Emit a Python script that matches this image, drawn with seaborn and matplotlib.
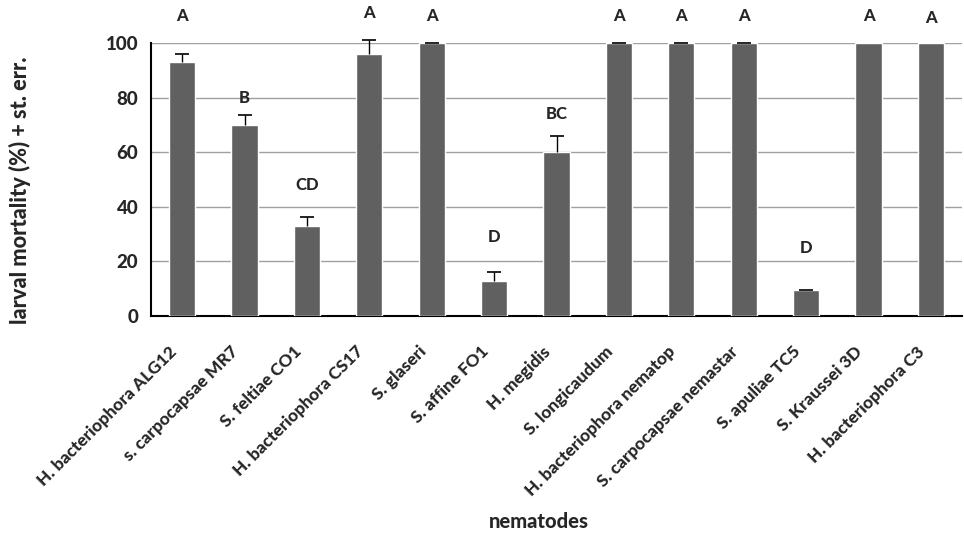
import matplotlib
matplotlib.use("Agg")
import matplotlib.pyplot as plt
import matplotlib.transforms as mtransforms
import seaborn as sns
import numpy as np
import pandas as pd
from matplotlib.ticker import FixedLocator

nematodes = ["H. bacteriophora ALG12", "s. carpocapsae MR7", "S. feltiae CO1",
             "H. bacteriophora CS17", "S. glaseri", "S. affine FO1", "H. megidis",
             "S. longicaudum", "H. bacteriophora nematop", "S. carpocapsae nemastar",
             "S. apuliae TC5", "S. Kraussei 3D", "H. bacteriophora C3"]
mortality = [93, 70, 33, 96, 100, 13, 60, 100, 100, 100, 9.5, 100, 100]
st_err = [3, 3.5, 3.3, 5, 0, 3, 6, 0, 0, 0, 0.2, np.nan, np.nan]
letters = ["A", "B", "CD", "A", "A", "D", "BC", "A", "A", "A", "D", "A", "A"]
letter_y = [110, 80, 48, 111, 110, 29, 74, 110, 110, 110, 25, 110, 109]

sns.set_style("white")
plt.rcParams['font.family'] = ['Lato', 'DejaVu Sans']

df = pd.DataFrame({"nematodes": nematodes, "mortality": mortality})

fig = plt.figure(figsize=(9.64, 5.35), dpi=100)
ax = fig.add_axes([0.1566, 0.4093, 0.8414, 0.5103])

sns.barplot(data=df, x="nematodes", y="mortality", order=nematodes, color="#606060",
            saturation=1, width=0.42, errorbar=None, ax=ax, zorder=3)

x = np.arange(len(nematodes))
err = np.array(st_err, dtype=float)
_, caps, _ = ax.errorbar(x, mortality, yerr=[np.zeros(len(err)), err], fmt="none",
                         ecolor="black", elinewidth=1, capsize=5, capthick=1.2,
                         zorder=4, clip_on=False)
caps[0].remove()

for xi, lab, ly in zip(x, letters, letter_y):
    ax.text(xi, ly, lab, ha="center", va="center", fontsize=12, fontweight=900,
            clip_on=False)

ax.set_xlim(-0.5, len(nematodes) - 0.5)
ax.set_ylim(0, 100)
ax.set_yticks([0, 20, 40, 60, 80, 100])
ax.yaxis.grid(True, color="#a0a0a0", linewidth=1, zorder=0)
ax.set_axisbelow(True)

for s in ["top", "right"]:
    ax.spines[s].set_visible(False)
for s in ["left", "bottom"]:
    ax.spines[s].set_color("black")
    ax.spines[s].set_linewidth(1.5)

ax.set_xticks(x)
ax.set_xticklabels(nematodes, rotation=45, ha="right", rotation_mode="anchor",
                   fontsize=12.5, fontweight=900)
ax.tick_params(axis="x", which="major", length=0, pad=14)
shift = mtransforms.ScaledTranslation(-0.14, -0.08, fig.dpi_scale_trans)
for lab in ax.get_xticklabels():
    lab.set_transform(lab.get_transform() + shift)
ax.xaxis.set_minor_locator(FixedLocator(np.arange(-0.5, len(nematodes), 1.0)))
ax.tick_params(axis="x", which="minor", length=6, width=1.5, color="black", direction="out")
ax.tick_params(axis="y", length=6, width=1.5, color="black", direction="out",
               labelsize=13.5, pad=3)
for t in ax.get_yticklabels():
    t.set_fontweight(900)

ax.set_xlabel("nematodes", fontsize=14.5, fontweight=900)
ax.xaxis.set_label_coords(0.478, -0.718)
ax.set_ylabel("larval mortality (%) + st. err.", fontsize=15.7, fontweight=900)
ax.yaxis.label.set_va("center")
ax.yaxis.set_label_coords(-0.162, 0.4615)

fig.savefig("out.png", dpi=100)
